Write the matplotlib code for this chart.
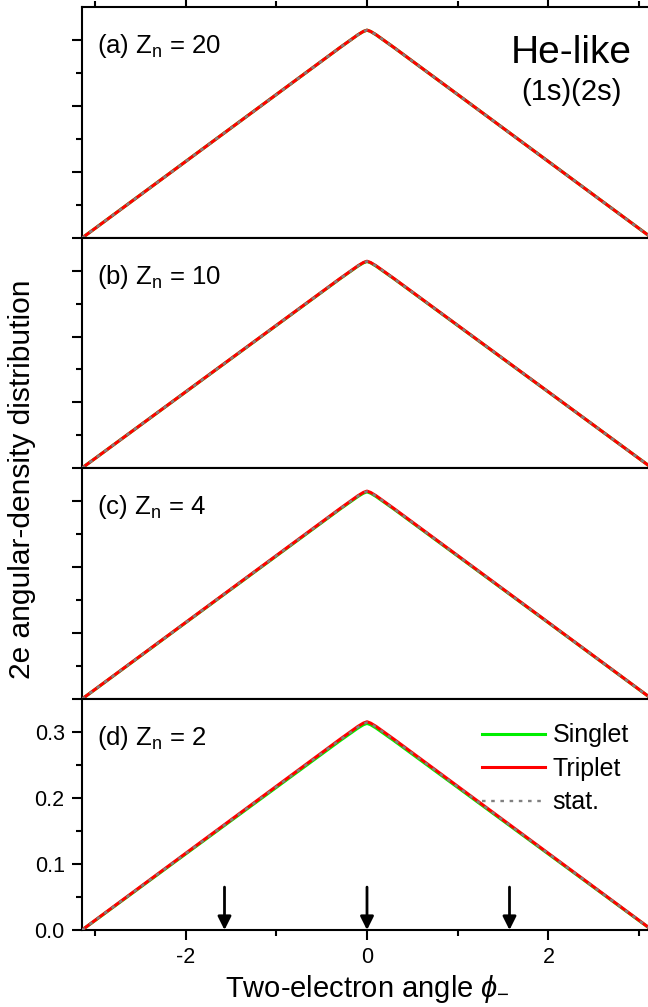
import numpy as np
import matplotlib
matplotlib.use("Agg")
import matplotlib.pyplot as plt

plt.rcParams['font.family'] = ['Liberation Sans', 'DejaVu Sans']
plt.rcParams['mathtext.fontset'] = 'custom'
plt.rcParams['mathtext.rm'] = 'Liberation Sans'
plt.rcParams['mathtext.it'] = 'Liberation Sans:italic'
plt.rcParams['mathtext.sf'] = 'Liberation Sans'
plt.rcParams['axes.unicode_minus'] = False

# two-electron angle phi_- (rad)
phi = [-3.1416, -3.0, -2.0, -1.0, -0.3, -0.1, -0.04, 0.0,
       0.04, 0.1, 0.3, 1.0, 2.0, 3.0, 3.1416]

# statistical distribution (same in every panel)
stat = [0.0, 0.0143, 0.1157, 0.2170, 0.2879, 0.3075, 0.3125, 0.3145,
        0.3125, 0.3075, 0.2879, 0.2170, 0.1157, 0.0143, 0.0]

panel_labels = ["(a) Z$_{\\rm n}$ = 20", "(b) Z$_{\\rm n}$ = 10",
                "(c) Z$_{\\rm n}$ = 4", "(d) Z$_{\\rm n}$ = 2"]

singlet_a = [0.0, 0.0143, 0.1157, 0.2170, 0.2879, 0.3075, 0.3125, 0.3145,
             0.3125, 0.3075, 0.2879, 0.2170, 0.1157, 0.0143, 0.0]
triplet_a = [0.0, 0.0143, 0.1157, 0.2171, 0.2880, 0.3076, 0.3126, 0.3146,
             0.3126, 0.3076, 0.2880, 0.2171, 0.1157, 0.0143, 0.0]
singlet_b = [0.0, 0.0143, 0.1156, 0.2168, 0.2877, 0.3072, 0.3122, 0.3142,
             0.3122, 0.3072, 0.2877, 0.2168, 0.1156, 0.0143, 0.0]
triplet_b = [0.0, 0.0143, 0.1158, 0.2171, 0.2881, 0.3077, 0.3127, 0.3147,
             0.3127, 0.3077, 0.2881, 0.2171, 0.1158, 0.0143, 0.0]
singlet_c = [0.0, 0.0142, 0.1155, 0.2166, 0.2874, 0.3068, 0.3118, 0.3138,
             0.3118, 0.3068, 0.2874, 0.2166, 0.1155, 0.0142, 0.0]
triplet_c = [0.0, 0.0144, 0.1159, 0.2173, 0.2883, 0.3080, 0.3130, 0.3150,
             0.3130, 0.3080, 0.2883, 0.2173, 0.1159, 0.0144, 0.0]
singlet_d = [0.0, 0.0141, 0.1151, 0.2160, 0.2866, 0.3060, 0.3110, 0.3130,
             0.3110, 0.3060, 0.2866, 0.2160, 0.1151, 0.0141, 0.0]
triplet_d = [0.0, 0.0145, 0.1161, 0.2177, 0.2888, 0.3085, 0.3135, 0.3155,
             0.3135, 0.3085, 0.2888, 0.2177, 0.1161, 0.0145, 0.0]

singlets = [singlet_a, singlet_b, singlet_c, singlet_d]
triplets = [triplet_a, triplet_b, triplet_c, triplet_d]

arrow_pos = [-1.5708, 0.0, 1.5708]
arrow_top = 0.065

fig = plt.figure(figsize=(6.48, 10.07), dpi=100)
W, H = 648.0, 1007.0
left, right = 82, 652
tops = [6.7, 238, 468, 699]
bot = [238, 468, 699, 930]

axes = []
for i in range(4):
    ax = fig.add_axes([left / W, 1 - bot[i] / H, (right - left) / W, (bot[i] - tops[i]) / H])
    axes.append(ax)
    ax.plot(phi, singlets[i], color='#00ee00', lw=2.2, label='Singlet', zorder=2)
    ax.plot(phi, triplets[i], color='#ff0000', lw=2.2, label='Triplet', zorder=3)
    ax.plot(phi, stat, color='#808080', lw=1.7, ls=(0, (1.5, 2.4)), label='stat.', zorder=4)
    ax.set_xlim(-np.pi, np.pi)
    ax.set_ylim(0, 0.35)
    ax.set_xticks([-2, 0, 2])
    ax.set_xticks([-3, -1, 1, 3], minor=True)
    ax.set_yticks([0.0, 0.1, 0.2, 0.3])
    ax.set_yticks([0.05, 0.15, 0.25], minor=True)
    ax.tick_params(which='both', direction='out', width=1.5, labelsize=15.5,
                   top=(i == 0), right=False, labelbottom=(i == 3), labelleft=(i == 3))
    ax.tick_params(which='major', length=7, pad=5.5)
    ax.tick_params(which='minor', length=4)
    for s in ax.spines.values():
        s.set_linewidth(1.5)
    ax.text(0.026, 0.80, panel_labels[i], transform=ax.transAxes, fontsize=18.5,
            ha='left', va='baseline')

axes[3].yaxis.set_major_formatter(matplotlib.ticker.FormatStrFormatter('%.1f'))

axes[0].text(0.858, 0.758, "He-like", transform=axes[0].transAxes, fontsize=28,
             ha='center', va='baseline')
axes[0].text(0.858, 0.597, "(1s)(2s)", transform=axes[0].transAxes, fontsize=21,
             ha='center', va='baseline')

for xp in arrow_pos:
    axes[3].annotate('', xy=(xp, 0.0), xytext=(xp, arrow_top),
                     arrowprops=dict(arrowstyle='-|>', color='k', lw=2,
                                     mutation_scale=20, shrinkA=0, shrinkB=0))

axes[3].legend(loc='upper left', bbox_to_anchor=(0.702, 0.895), frameon=False,
               fontsize=18, handlelength=2.5, handletextpad=0.32,
               labelspacing=0.38, borderpad=0, borderaxespad=0)

axes[3].set_xlabel(r"Two-electron angle $\phi_{-}$", fontsize=21, labelpad=3)
fig.text(22 / W, 1 - 479 / H, "2e angular-density distribution", rotation=90,
         fontsize=21.5, ha='center', va='center')

fig.savefig("out.png", dpi=100)
